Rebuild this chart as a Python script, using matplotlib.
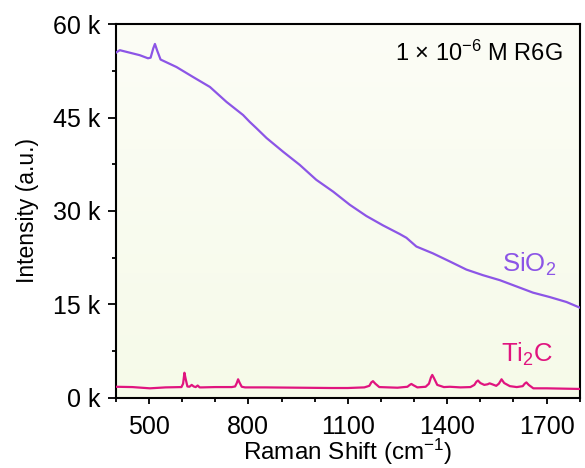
import numpy as np
import matplotlib
matplotlib.use('Agg')
from matplotlib import pyplot as plt

plt.rcParams['font.family'] = ['Liberation Sans', 'DejaVu Sans']
plt.rcParams['mathtext.fontset'] = 'custom'
plt.rcParams['mathtext.rm'] = 'Liberation Sans'
plt.rcParams['mathtext.it'] = 'Liberation Sans:italic'

# SiO2 spectrum (cm^-1, counts)
sio2_x = [400, 412, 442, 472, 497, 505, 513, 518, 525, 535, 543, 583, 633,
          684, 734, 784, 804, 824, 855, 905, 955, 1005, 1056, 1106, 1156,
          1206, 1257, 1277, 1307, 1357, 1408, 1458, 1508, 1559, 1609, 1659,
          1709, 1760, 1800]
sio2_y = [55400, 55800, 55400, 55000, 54500, 54600, 56100, 56800, 55700,
          54300, 54100, 53100, 51500, 49900, 47500, 45400, 44300, 43300,
          41700, 39500, 37400, 35000, 33100, 31000, 29200, 27700, 26300,
          25700, 24300, 23200, 21900, 20600, 19700, 18900, 17900, 16900,
          16200, 15400, 14500]

# Ti2C spectrum (R6G bands)
ti2c_x = [400, 450, 503, 550, 598, 603, 607, 611, 616, 622, 629, 635, 641,
          647, 653, 660, 700, 750, 760, 765, 769, 774, 780, 790, 850, 950,
          1050, 1100, 1150, 1165, 1171, 1176, 1183, 1195, 1250, 1280, 1287,
          1292, 1298, 1310, 1335, 1345, 1351, 1355, 1360, 1370, 1390, 1408,
          1440, 1470, 1482, 1488, 1493, 1500, 1512, 1522, 1528, 1536, 1548,
          1556, 1564, 1572, 1589, 1610, 1628, 1634, 1639, 1646, 1660, 1700,
          1750, 1800]
ti2c_y = [1800, 1750, 1550, 1700, 1750, 2300, 4050, 3000, 1850, 1800, 2100,
          1850, 1750, 2000, 1700, 1700, 1750, 1750, 1850, 2400, 3000, 2400,
          1800, 1700, 1700, 1650, 1600, 1600, 1700, 1950, 2500, 2700, 2300,
          1750, 1650, 1800, 2100, 2250, 2050, 1700, 1800, 2300, 3300, 3700,
          3200, 2100, 1750, 1800, 1700, 1750, 2100, 2600, 2800, 2400, 2100,
          2200, 2350, 2200, 1950, 2300, 3000, 2400, 1900, 1750, 1900, 2300,
          2500, 2100, 1550, 1550, 1500, 1450]

x_major = [500, 800, 1100, 1400, 1700]
x_minor = [400, 600, 700, 900, 1000, 1200, 1300, 1500, 1600, 1800]
y_major = [0, 15000, 30000, 45000, 60000]
y_major_labels = ['0 k', '15 k', '30 k', '45 k', '60 k']
y_minor = [7500, 22500, 37500, 52500]

sio2_color = '#8c55e6'
ti2c_color = '#e0147f'

fig = plt.figure(figsize=(5.85, 4.68), dpi=100)
ax = fig.add_axes([0.198, 0.1496, 0.793, 0.7991])

# pale green backdrop, a touch lighter at the top
grad = np.linspace(0, 1, 256).reshape(-1, 1)
top = np.array([252, 253, 246]) / 255.0
bot = np.array([246, 250, 233]) / 255.0
img = top[None, None, :] * (1 - grad[:, :, None]) + bot[None, None, :] * grad[:, :, None]
ax.imshow(img, extent=[0, 1, 0, 1], transform=ax.transAxes, aspect='auto', zorder=0)

ax.plot(sio2_x, sio2_y, color=sio2_color, lw=1.6, zorder=3)
ax.plot(ti2c_x, ti2c_y, color=ti2c_color, lw=1.6, zorder=3)

ax.set_xlim(400, 1800)
ax.set_ylim(0, 60000)
ax.set_xticks(x_major)
ax.set_xticks(x_minor, minor=True)
ax.set_yticks(y_major)
ax.set_yticklabels(y_major_labels)
ax.set_yticks(y_minor, minor=True)
ax.tick_params(axis='x', which='major', direction='out', length=4, width=1.3,
               labelsize=18, pad=8)
ax.tick_params(axis='x', which='minor', direction='out', length=3, width=1.3)
ax.tick_params(axis='y', which='major', direction='out', length=6, width=1.3,
               labelsize=18, pad=5)
ax.tick_params(axis='y', which='minor', direction='out', length=3, width=1.3)
for sp in ax.spines.values():
    sp.set_linewidth(1.5)

ax.set_xlabel('Raman Shift (cm$^{-1}$)', fontsize=17.5, labelpad=-1)
ax.set_ylabel('Intensity (a.u.)', fontsize=16.5, labelpad=10)

ax.text(0.963, 0.902, '1 × 10$^{-6}$ M R6G', transform=ax.transAxes,
        ha='right', va='baseline', fontsize=17)
ax.text(0.950, 0.337, 'SiO$_2$', transform=ax.transAxes, ha='right',
        va='baseline', fontsize=18.5, color=sio2_color)
ax.text(0.942, 0.096, 'Ti$_2$C', transform=ax.transAxes, ha='right',
        va='baseline', fontsize=18.5, color=ti2c_color)

fig.savefig('out.png', dpi=100)
